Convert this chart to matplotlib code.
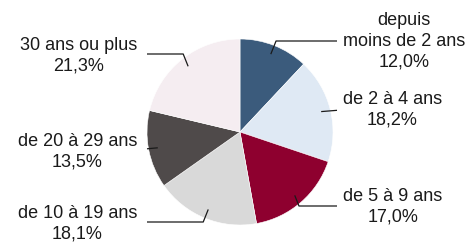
import numpy as np
import matplotlib.pyplot as plt

# Données
labels = ["depuis\nmoins de 2 ans", "de 2 à 4 ans", "de 5 à 9 ans",
          "de 10 à 19 ans", "de 20 à 29 ans", "30 ans ou plus"]
values = [12.0, 18.2, 17.0, 18.1, 13.5, 21.3]
colors = ["#3b5b7c", "#dfe9f4", "#8e002f", "#d9d9d9", "#4f4a4a", "#f5edf1"]

plt.rcParams['font.family'] = ['Liberation Sans', 'DejaVu Sans']

W, H = 472, 242
fig = plt.figure(figsize=(W / 100, H / 100), dpi=100)
ax = fig.add_axes([0, 0, 1, 1])

cx, cy, R = 240, H - 132, 93
wedges, _ = ax.pie(values, colors=colors, startangle=90, counterclock=False,
                   center=(cx, cy), radius=R, frame=True,
                   wedgeprops=dict(edgecolor='white', linewidth=0.4))
ax.set_xlim(0, W)
ax.set_ylim(0, H)
ax.set_aspect('equal')
ax.axis('off')

# position des étiquettes (y du texte, y du coude, côté)
label_y = [H - 41, H - 110, H - 207, H - 224, H - 152, H - 56]
elbow_y = [H - 41, None, H - 206, H - 222, None, H - 54]
side = ['right', 'right', 'right', 'left', 'left', 'left']

for w, lab, v, ly, ey, s in zip(wedges, labels, values, label_y, elbow_y, side):
    ang = np.deg2rad((w.theta1 + w.theta2) / 2)
    x0 = cx + 0.9 * R * np.cos(ang)
    y0 = cy + 0.9 * R * np.sin(ang)
    sgn = 1 if s == 'right' else -1
    if s == 'right':
        xend, tx, ha = 337, 343, 'left'
    else:
        xend, tx, ha = 147, 137, 'right'
    if ey is None:
        xs = [x0, xend]
        ys = [y0, y0 + (ly - y0) * 0.8 if s == 'right' else y0 - 1]
    else:
        xe = x0 + abs(ey - y0) * 0.4 * sgn
        xs = [x0, xe, xend]
        ys = [y0, ey, ey]
    ax.plot(xs, ys, color='#1a1a1a', lw=0.9, solid_capstyle='butt')
    txt = lab + "\n" + f"{v:.1f}".replace('.', ',') + "%"
    ax.text(tx, ly, txt, ha=ha, va='center', multialignment='center',
            fontsize=13, color='#1a1a1a', linespacing=1.3)

fig.savefig("out.png", dpi=100)
